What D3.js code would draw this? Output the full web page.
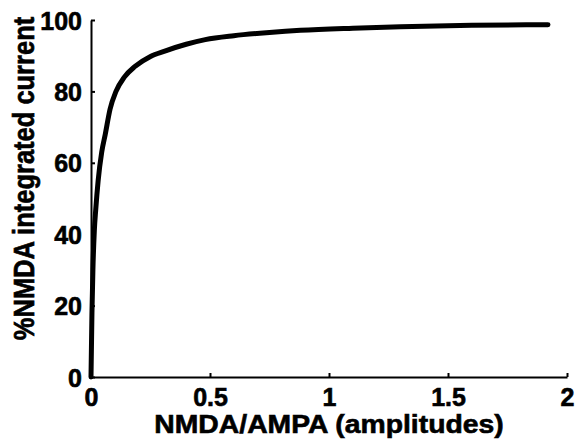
<!DOCTYPE html>
<html>
<head>
<meta charset="utf-8">
<script src="https://cdn.jsdelivr.net/npm/d3@7"></script>
<style>
  html, body { margin: 0; padding: 0; background: #fff; }
  svg { display: block; }
  text { font-family: "Liberation Sans", Arial, Helvetica, sans-serif; font-weight: bold; fill: #000; }
</style>
</head>
<body>
<svg id="chart" width="575" height="444"></svg>
<script>
// NMDA/AMPA amplitude ratio vs. NMDA share of the integrated current
const ratio = [0, 0.004, 0.008, 0.014, 0.02, 0.03, 0.045, 0.06, 0.08, 0.105, 0.14, 0.185,
               0.25, 0.31, 0.4, 0.48, 0.6, 0.75, 0.88, 1.1, 1.3, 1.6, 1.92];
const nmdaPct = [0, 18, 30, 41, 47, 55, 63, 68, 75, 80, 84, 87,
                 89.8, 91.3, 93.2, 94.5, 95.6, 96.5, 97.1, 97.7, 98.1, 98.5, 98.7];
const xTicks = [0, 0.5, 1, 1.5, 2];
const xTickLabels = ["0", "0.5", "1", "1.5", "2"];
const yTicks = [0, 20, 40, 60, 80, 100];
const xTitle = "NMDA/AMPA (amplitudes)";
const yTitle = "%NMDA integrated current";

const svg = d3.select("#chart");
const plotLeft = 91, plotRight = 567, plotTop = 20, plotBottom = 377;

const x = d3.scaleLinear().domain([0, 2]).range([plotLeft, plotRight]);
const y = d3.scaleLinear().domain([0, 100]).range([plotBottom, plotTop]);

const axisStroke = 2;
const heavy = sel => sel.attr("stroke", "#000").attr("stroke-width", 0.6).attr("paint-order", "stroke");

// y axis: ticks point inward
const yAxis = d3.axisLeft(y).tickValues(yTicks).tickSizeInner(-4).tickSizeOuter(0).tickPadding(9)
  .tickFormat(d3.format("d"));
const gy = svg.append("g").attr("transform", `translate(${plotLeft},0)`).call(yAxis);
gy.select(".domain").attr("stroke", "#000").attr("stroke-width", axisStroke);
gy.selectAll(".tick line").attr("stroke", "#000").attr("stroke-width", axisStroke);
gy.selectAll(".tick text").attr("font-size", 25).attr("dy", "0.36em")
  .style("font-family", '"Liberation Sans", Arial, sans-serif').style("font-weight", "bold")
  .call(heavy);

// x axis: ticks point inward
const xAxis = d3.axisBottom(x).tickValues(xTicks).tickSizeInner(-4).tickSizeOuter(0).tickPadding(11)
  .tickFormat((d, i) => xTickLabels[i]);
const gx = svg.append("g").attr("transform", `translate(0,${plotBottom})`).call(xAxis);
gx.select(".domain").attr("stroke", "#000").attr("stroke-width", axisStroke);
gx.selectAll(".tick line").attr("stroke", "#000").attr("stroke-width", axisStroke);
gx.selectAll(".tick text").attr("font-size", 25).attr("dy", "0.72em")
  .style("font-family", '"Liberation Sans", Arial, sans-serif').style("font-weight", "bold")
  .call(heavy);
gx.selectAll(".tick").filter(d => d === 0).select("line").remove();

// curve
const line = d3.line()
  .x((d, i) => x(ratio[i]))
  .y(d => y(d))
  .curve(d3.curveMonotoneX);
svg.append("path")
  .attr("d", line(nmdaPct))
  .attr("fill", "none")
  .attr("stroke", "#000")
  .attr("stroke-width", 5)
  .attr("stroke-linecap", "round")
  .attr("stroke-linejoin", "round");

// axis titles
svg.append("text")
  .attr("transform", `translate(${(plotLeft + plotRight) / 2},433) scale(1.09,1)`)
  .attr("text-anchor", "middle")
  .attr("font-size", 26)
  .call(heavy)
  .text(xTitle);

svg.append("text")
  .attr("transform", `translate(34,178.5) rotate(-90) scale(1,1.15)`)
  .attr("text-anchor", "middle")
  .attr("font-size", 25.5)
  .call(heavy)
  .text(yTitle);
</script>
</body>
</html>
